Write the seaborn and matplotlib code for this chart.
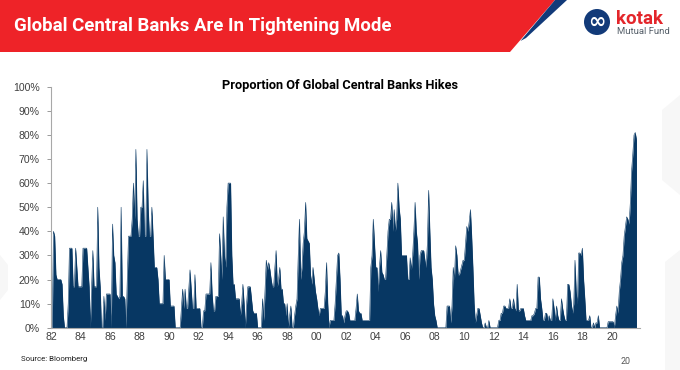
import matplotlib
matplotlib.use('Agg')
import matplotlib.pyplot as plt
from matplotlib.patches import Polygon, Circle
import numpy as np
import pandas as pd
import seaborn as sns

# Share of central banks hiking, monthly (%)
y1982 = [0, 0, 40, 38, 22, 20, 20, 20, 20, 18, 5, 0]
y1983 = [0, 0, 10, 33, 33, 33, 17, 17, 33, 25, 17, 17]
y1984 = [17, 17, 33, 33, 33, 33, 25, 17, 0, 17, 32, 17]
y1985 = [17, 17, 50, 25, 17, 0, 0, 13, 3, 14, 14, 14]
y1986 = [14, 0, 43, 30, 27, 14, 13, 12, 13, 50, 13, 13]
y1987 = [12, 0, 20, 38, 38, 38, 45, 60, 45, 74, 45, 38]
y1988 = [38, 50, 50, 61, 38, 38, 74, 50, 38, 38, 50, 38]
y1989 = [25, 25, 25, 20, 10, 10, 10, 10, 30, 20, 20, 20]
y1990 = [20, 9, 9, 9, 9, 0, 0, 0, 0, 0, 8, 16]
y1991 = [8, 16, 8, 8, 16, 24, 16, 8, 8, 22, 8, 8]
y1992 = [8, 8, 0, 0, 7, 7, 14, 14, 14, 14, 27, 14]
y1993 = [7, 7, 13, 13, 13, 39, 30, 20, 46, 30, 25, 50]
y1994 = [60, 60, 60, 30, 18, 18, 12, 12, 12, 12, 5, 10]
y1995 = [18, 10, 0, 10, 17, 17, 17, 12, 7, 6, 6, 6]
y1996 = [0, 0, 0, 0, 12, 3, 15, 28, 24, 27, 24, 20]
y1997 = [17, 17, 25, 32, 17, 20, 25, 16, 16, 10, 10, 5]
y1998 = [10, 0, 5, 9, 0, 0, 5, 9, 12, 30, 45, 20]
y1999 = [25, 35, 40, 52, 37, 36, 35, 22, 18, 25, 20, 15]
y2000 = [12, 8, 5, 8, 8, 8, 8, 15, 27, 10, 0, 3]
y2001 = [3, 3, 3, 10, 20, 30, 31, 20, 5, 5, 2, 5]
y2002 = [7, 7, 6, 3, 3, 3, 3, 3, 8, 14, 7, 6]
y2003 = [6, 3, 3, 3, 3, 3, 3, 3, 25, 30, 45, 35]
y2004 = [25, 25, 15, 25, 32, 23, 22, 20, 20, 30, 40, 45]
y2005 = [45, 52, 40, 49, 40, 45, 60, 50, 45, 30, 30, 30]
y2006 = [30, 30, 20, 20, 29, 24, 30, 40, 52, 40, 35, 20]
y2007 = [30, 32, 32, 32, 28, 25, 35, 57, 40, 25, 20, 10]
y2008 = [5, 3, 0, 0, 0, 0, 0, 0, 0, 0, 9, 9]
y2009 = [9, 2, 9, 25, 20, 34, 30, 22, 22, 24, 26, 28]
y2010 = [28, 35, 42, 40, 44, 49, 38, 25, 10, 2, 5, 8]
y2011 = [8, 5, 2, 0, 0, 2, 0, 0, 3, 0, 0, 0]
y2012 = [0, 0, 0, 0, 3, 3, 6, 6, 9, 9, 8, 8]
y2013 = [8, 12, 8, 8, 12, 8, 7, 18, 7, 7, 8, 8]
y2014 = [8, 5, 3, 3, 3, 3, 3, 5, 5, 6, 8, 8]
y2015 = [21, 21, 12, 8, 3, 3, 6, 6, 3, 5, 3, 3]
y2016 = [12, 8, 3, 9, 5, 3, 3, 12, 8, 5, 3, 3]
y2017 = [18, 18, 15, 10, 6, 10, 28, 15, 10, 31, 31, 30]
y2018 = [33, 20, 12, 3, 3, 3, 5, 0, 0, 2, 0, 2]
y2019 = [2, 5, 0, 0, 0, 0, 0, 0, 0, 2.5, 2.5, 2.5]
y2020 = [2.5, 2.5, 0, 5, 9, 6, 15, 20, 27, 30, 38, 42]
y2021 = [46, 45, 43, 52, 65, 72, 80, 81, 78]

values = (y1982 + y1983 + y1984 + y1985 + y1986 + y1987 + y1988 + y1989 + y1990 + y1991
          + y1992 + y1993 + y1994 + y1995 + y1996 + y1997 + y1998 + y1999 + y2000 + y2001
          + y2002 + y2003 + y2004 + y2005 + y2006 + y2007 + y2008 + y2009 + y2010 + y2011
          + y2012 + y2013 + y2014 + y2015 + y2016 + y2017 + y2018 + y2019 + y2020 + y2021)

tick_years = list(range(1982, 2021, 2))
tick_labels = ['82', '84', '86', '88', '90', '92', '94', '96', '98', '00',
               '02', '04', '06', '08', '10', '12', '14', '16', '18', '20']
y_ticks = list(range(0, 101, 10))
y_labels = [f'{v}%' for v in y_ticks]

df = pd.DataFrame({'year': 1982 + np.arange(len(values)) / 12, 'hikes': values})

sns.set_style('white')
plt.rcParams['font.family'] = ['Roboto', 'DejaVu Sans']

W, H = 680, 370
NAVY = '#073763'
fig = plt.figure(figsize=(W / 100, H / 100), dpi=100)

# pixel canvas for the slide furniture
bg = fig.add_axes([0, 0, 1, 1], zorder=0)
bg.set_xlim(0, W)
bg.set_ylim(H, 0)
bg.axis('off')
# faint grey facets of the slide background
bg.add_patch(Polygon([[680, 95], [662, 110], [662, 180], [680, 195]], color='#f7f7f7', lw=0))
bg.add_patch(Polygon([[680, 250], [665, 262], [665, 370], [680, 370]], color='#f7f7f7', lw=0))
bg.add_patch(Polygon([[0, 255], [8, 265], [8, 290], [0, 300]], color='#f7f7f7', lw=0))
bg.add_patch(Polygon([[0, 0], [555, 0], [510, 52], [0, 52]], color='#ee2328', lw=0))
bg.add_patch(Polygon([[555, 0], [567, 0], [526, 38], [520.5, 41]], color='#123a79', lw=0))
bg.text(14, 26, 'Global Central Banks Are In Tightening Mode', color='white',
        fontsize=13.4, fontweight='bold', va='center')
bg.add_patch(Circle((597, 22), 13, color='#123a79', lw=0))
bg.text(597, 21.5, '\u221e', color='white', fontsize=15, fontweight='bold',
        ha='center', va='center', family='DejaVu Sans')
bg.text(616, 19, 'kotak', color='#e3262b', fontsize=13.5, fontweight='bold', va='center')
bg.text(617, 31, 'Mutual Fund', color='#56606a', fontsize=6.8, va='center')
bg.text(340, 85, 'Proportion Of Global Central Banks Hikes', color='black',
        fontsize=9.2, fontweight='bold', ha='center', va='center')
bg.text(21, 359, 'Source: Bloomberg', color='#222222', fontsize=5.7, va='center')
bg.text(626, 362, '20', color='#555555', fontsize=6.4, ha='center', va='center')

# chart area, 82 sits at px 51 and a year is 14.76 px wide
ax = fig.add_axes([51 / W, 1 - 327.7 / H, (640 - 51) / W, (327.7 - 86.7) / H], zorder=1)
ax.patch.set_alpha(0)
sns.lineplot(data=df, x='year', y='hikes', color=NAVY, linewidth=0.4, ax=ax)
ax.fill_between(df['year'], df['hikes'], color=NAVY, lw=0)
ax.set_xlim(1982, 1982 + (640 - 51) / 14.76)
ax.set_ylim(0, 100)
ax.set_xticks(tick_years)
ax.set_xticklabels(tick_labels, family='Liberation Sans')
ax.set_yticks(y_ticks)
ax.set_yticklabels(y_labels, family='Liberation Sans')
ax.set_xlabel('')
ax.set_ylabel('')
ax.tick_params(axis='y', length=3, width=0.7, color='#9a9a9a', labelsize=7.6,
               labelcolor='#404040', pad=5, left=True)
ax.tick_params(axis='x', length=0, labelsize=7.6, labelcolor='#404040', pad=3)
sns.despine(ax=ax)
for s in ['left', 'bottom']:
    ax.spines[s].set_color('#a8a8a8')
    ax.spines[s].set_linewidth(0.8)

fig.savefig('out.png', dpi=100)
